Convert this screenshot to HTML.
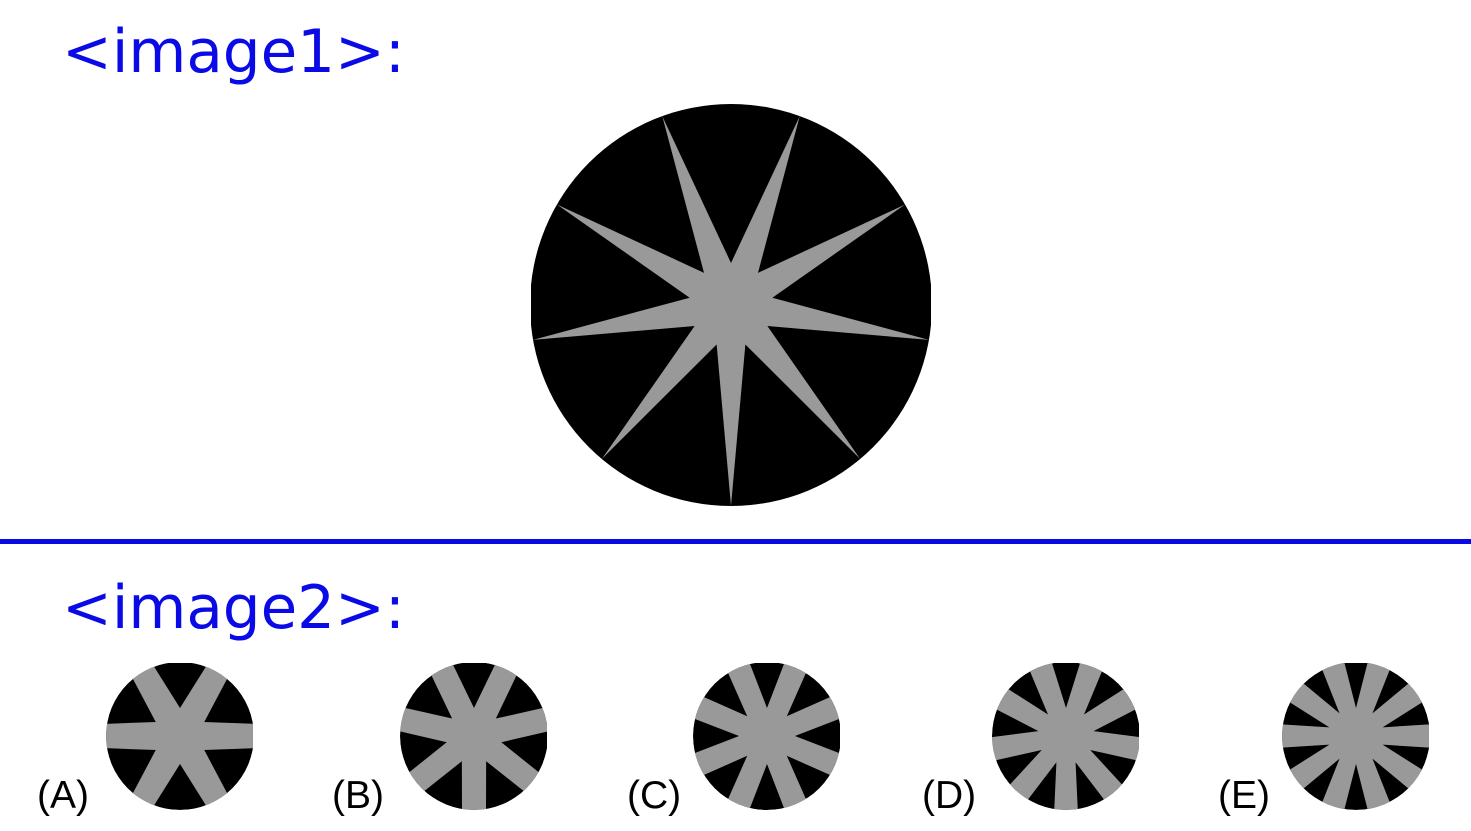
<!DOCTYPE html>
<html><head><meta charset="utf-8"><style>
html,body{margin:0;padding:0;background:#fff;width:1471px;height:831px;overflow:hidden}
svg{display:block}
</style></head><body>
<svg id="svg" width="1471" height="831" viewBox="0 0 1471 831">
<text x="62" y="72" font-family="DejaVu Sans, sans-serif" font-size="59.5" fill="#0a0ae6">&lt;image1&gt;:</text>
<rect x="0" y="539" width="1471" height="5" fill="#0a0ae6"/>
<text x="62" y="628" font-family="DejaVu Sans, sans-serif" font-size="59.5" fill="#0a0ae6">&lt;image2&gt;:</text>
<g id="labels" font-family="Liberation Sans, sans-serif" font-size="39" fill="#000">
<text x="37" y="808">(A)</text>
<text x="332" y="808">(B)</text>
<text x="627" y="808">(C)</text>
<text x="922" y="808">(D)</text>
<text x="1218" y="808">(E)</text>
</g>
</svg>
<script>
const NS='http://www.w3.org/2000/svg';
const svg=document.getElementById('svg');
const mainPoints=[9];
const optionArms=[6,7,8,9,10];
const optionOffsets=[30,180,22.5,180,18];
const optionCenters=[[180,736],[474,736],[767,736],[1066,736],[1356,736]];
function mk(t,a){const e=document.createElementNS(NS,t);for(const k in a)e.setAttribute(k,a[k]);return e;}
let cid=0;
function clipFor(x,y,w,h){const id='c'+(cid++);const cp=mk('clipPath',{id});cp.appendChild(mk('rect',{x,y,width:w,height:h}));svg.appendChild(cp);return id;}
function clipCirc(cx,cy,r){const id='c'+(cid++);const cp=mk('clipPath',{id});cp.appendChild(mk('circle',{cx,cy,r}));svg.appendChild(cp);return id;}
// main star
(function(){
 const cx=731,cy=305,R=201,n=mainPoints[0],ri=42;
 const g=mk('g',{'clip-path':'url(#'+clipFor(531,104,400,403)+')'});
 
 
 g.appendChild(mk('circle',{cx,cy,r:R,fill:'#000'}));
 let pts=[];
 for(let i=0;i<n;i++){
  const a=(-20+i*360/n)*Math.PI/180, b=a+Math.PI/n;
  pts.push([cx+R*Math.sin(a),cy-R*Math.cos(a)]);
  pts.push([cx+ri*Math.sin(b),cy-ri*Math.cos(b)]);
 }
 g.appendChild(mk('polygon',{points:pts.map(p=>p.join(',')).join(' '),fill:'#999'}));
 svg.appendChild(g);
})();
// options
optionArms.forEach((n,k)=>{
 const [cx,cy]=optionCenters[k],R=74,ri=28,hw=12;
 const g=mk('g',{'clip-path':'url(#'+clipFor(cx-74,cy-73,147,147)+')'});
 
 
 const inner=mk('g',{'clip-path':'url(#'+clipCirc(cx,cy,R)+')'});
 inner.appendChild(mk('circle',{cx,cy,r:R,fill:'#000'}));
 let pts=[];const Ro=R+6;const dh=Math.asin(hw/Ro);
 for(let i=0;i<n;i++){
  const a=(optionOffsets[k]+i*360/n)*Math.PI/180,b=a+Math.PI/n;
  pts.push([cx+Ro*Math.sin(a-dh),cy-Ro*Math.cos(a-dh)]);
  pts.push([cx+Ro*Math.sin(a+dh),cy-Ro*Math.cos(a+dh)]);
  pts.push([cx+ri*Math.sin(b),cy-ri*Math.cos(b)]);
 }
 inner.appendChild(mk('polygon',{points:pts.map(p=>p.join(',')).join(' '),fill:'#999'}));
 g.appendChild(inner);
 svg.appendChild(g);
});
</script>
</body></html>
